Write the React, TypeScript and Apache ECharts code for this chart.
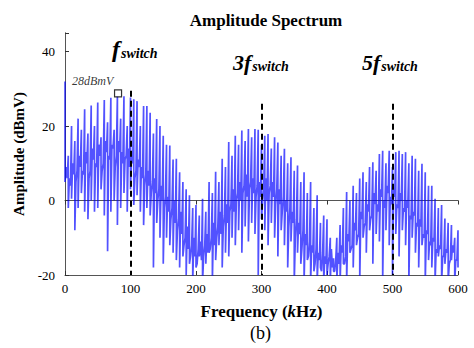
import React, { useEffect, useRef } from "react";
import * as echarts from "echarts";

const freqs = [
  0, 5, 10, 15, 20, 25, 30, 35, 40, 45, 50, 55, 60, 65, 70, 75, 80, 85, 90, 95,
  100, 105, 110, 115, 120, 125, 130, 135, 140, 145, 150, 155, 160, 165, 170, 175, 180, 185, 190, 195,
  200, 205, 210, 215, 220, 225, 230, 235, 240, 245, 250, 255, 260, 265, 270, 275, 280, 285, 290, 295,
  300, 305, 310, 315, 320, 325, 330, 335, 340, 345, 350, 355, 360, 365, 370, 375, 380, 385, 390, 395,
  400, 405, 410, 415, 420, 425, 430, 435, 440, 445, 450, 455, 460, 465, 470, 475, 480, 485, 490, 495,
  500, 505, 510, 515, 520, 525, 530, 535, 540, 545, 550, 555, 560, 565, 570, 575, 580, 585, 590, 595, 600,
];

const peaks = [
  32, 12, 20, 16, 22, 19, 24.5, 18, 25.5, 20, 26.3, 17, 27, 21, 27.6, 19, 28, 22, 28, 20,
  27.7, 27.2, 26.7, 20, 25.4, 25.4, 23.6, 18, 21.9, 20, 17.4, 15, 14.8, 11, 11.2, 7.6, 5, 3, 1.4, -2,
  -1.2, -4, 0.5, -3, 5, 2, 7.7, 5, 11.2, 9, 15.7, 12, 17.4, 15, 18.8, 16, 19.2, 17, 19.2, 19,
  15, 17.4, 17.9, 14, 17, 15.6, 12, 13.9, 10, 11.6, 8, 9.4, 5, 7.6, 2, 5, -2, 1.4, -6, -4,
  -5, -10, -15.5, -10, -6.6, -2, 2.3, 0, 4, 2, 5.9, 7.6, 5, 9, 10.3, 8, 12.5, 13.4, 10, 13.4,
  9, 13, 13.4, 12.5, 13, 10, 12, 11.2, 8, 9.9, 7.6, 4, 4, 0.5, -2, -1.2, -4.8, -6, -6.6, -10, -8,
];

const troughs = [
  5, -2, 0.5, -8, -2, 2, -3, -5, 0, -3, -2, 3, -4, -13.6, -3, 0, -6.6, -2, 2, -3,
  3, -1.2, 1.4, -3, -6.6, -2, -4, -18, -6, -10, -17, -10, -12, -14, -16, -18, -15, -20, -17, -22,
  -18, -15, -22, -17, -14, -22, -16, -12, -18, -14, -15, -10, -12, -8, -14, -7, -11, -6, -9, -20,
  -5, -8, -12, -6, -10, -15, -8, -12, -18, -11, -22, -14, -17, -22, -16, -22, -19, -22, -18, -22,
  -20, -22, -19, -22, -22, -17, -22, -14, -18, -12, -22, -10, -14, -8, -17, -9, -11, -22, -8, -12,
  -20, -9, -15, -8, -12, -22, -10, -14, -18, -12, -22, -16, -18, -22, -15, -22, -17, -22, -16, -22, -18,
];

const floorsA = [
  9, 6, 10, 5, 12, 8, 13, 6, 14, 10, 15, 8, 16, 12, 15, 9, 16, 13, 11, 14,
  12, 6, 11, 9, 4, 8, 2, 6, 0, 4, -2, 1, -5, 0, -8, -3, -12, -7, -15, -10,
  -17, -11, -15, -9, -13, -6, -10, -3, -7, -1, -3, 3, 0, 5, 2, 7, 3, 6, 1, 5,
  0, 6, 2, 5, -1, 3, -3, 0, -7, -3, -10, -6, -13, -9, -15, -12, -17, -14, -19, -15,
  -17, -13, -19, -14, -12, -17, -9, -13, -6, -10, -3, -7, -1, -5, 2, -1, 3, 0, 4, 1,
  3, -1, 2, -2, 0, -4, -3, -6, -5, -9, -8, -11, -10, -13, -12, -15, -13, -17, -12, -16, -15,
];

const floorsB = [
  6, 4, 7, 8, 9, 7, 10, 8, 11, 9, 12, 10, 13, 11, 14, 12, 13, 10, 12, 9,
  10, 8, 9, 6, 7, 4, 5, 2, 3, 0, 1, -3, -2, -6, -5, -9, -10, -13, -12, -15,
  -13, -16, -12, -14, -10, -12, -7, -9, -4, -6, -1, -3, 2, 0, 4, 1, 5, 2, 4, 1,
  3, 0, 4, 1, 3, -1, 1, -3, -2, -6, -5, -9, -8, -12, -11, -14, -13, -16, -14, -17,
  -15, -18, -16, -17, -14, -15, -11, -12, -8, -9, -5, -6, -3, -4, -1, -3, 1, -2, 2, -1,
  1, -2, 0, -3, -2, -5, -4, -7, -7, -10, -9, -12, -11, -14, -13, -15, -14, -16, -14, -16, -15,
];

const xTicks = [0, 100, 200, 300, 400, 500, 600];
const yTicks = [-20, 0, 20, 40];
const harmonics = [100, 300, 500];
const harmonicTops = [29.5, 26, 26];
const peakMarker = [[81, 28.8]];

const SERIF = "Liberation Serif";

export default function App() {
  const ref = useRef<HTMLDivElement>(null);
  useEffect(() => {
    if (!ref.current) return;
    const chart = echarts.init(ref.current, null, { renderer: "svg" });
    const line: number[][] = [];
    for (let i = 0; i < freqs.length; i++) {
      line.push([freqs[i], peaks[i]]);
      line.push([freqs[i], troughs[i]]);
      if (i < freqs.length - 1) {
        const step = freqs[i + 1] - freqs[i];
        line.push([freqs[i] + step / 3, floorsA[i]]);
        line.push([freqs[i] + (2 * step) / 3, floorsB[i]]);
      }
    }
    const markData = harmonics.map((h, i) => [
      { coord: [h, harmonicTops[i]] },
      { coord: [h, -20] },
    ]);
    const sub = { fontFamily: SERIF, fontSize: 14, fontWeight: "bold", fontStyle: "italic", color: "#000", padding: [8, 0, 0, 1] };
    chart.setOption({
      animation: false,
      textStyle: { fontFamily: SERIF },
      title: {
        text: "Amplitude Spectrum",
        left: 261,
        textAlign: "center",
        top: 7,
        textStyle: { fontFamily: SERIF, fontSize: 17, fontWeight: "bold", color: "#000" },
      },
      grid: { left: 65, right: 16, top: 33, bottom: 73 },
      xAxis: [
        {
          type: "value",
          min: 0,
          max: 600,
          interval: 100,
          axisLine: { show: true, onZero: false, lineStyle: { color: "#555", width: 1 } },
          axisTick: { show: true, inside: true, length: 4, lineStyle: { color: "#333" } },
          splitLine: { show: false },
          axisLabel: {
            fontFamily: SERIF, fontSize: 13, color: "#000", margin: 7,
            formatter: (v: number) => (xTicks.includes(v) ? String(v) : ""),
          },
          name: "{b|Frequency (}{bi|k}{b|Hz)}",
          nameLocation: "middle",
          nameGap: 28,
          nameTextStyle: {
            rich: {
              b: { fontFamily: SERIF, fontSize: 17, fontWeight: "bold", color: "#000" },
              bi: { fontFamily: SERIF, fontSize: 17, fontWeight: "bold", fontStyle: "italic", color: "#000" },
            },
          },
        },
        {
          type: "value",
          position: "top",
          min: 0,
          max: 600,
          interval: 100,
          axisLine: { show: true, lineStyle: { color: "#555", width: 1 } },
          axisTick: { show: true, inside: true, length: 4, lineStyle: { color: "#333" } },
          axisLabel: { show: false },
          splitLine: { show: false },
        },
      ],
      yAxis: [
        {
          type: "value",
          min: -20,
          max: 45,
          interval: 20,
          axisLine: { show: true, onZero: false, lineStyle: { color: "#555", width: 1 } },
          axisTick: { show: true, inside: true, length: 4, lineStyle: { color: "#333" } },
          splitLine: { show: false },
          axisLabel: {
            fontFamily: SERIF, fontSize: 13, color: "#000", margin: 10,
            formatter: (v: number) => (yTicks.includes(v) ? String(v) : ""),
          },
          name: "Amplitude (dBmV)",
          nameLocation: "middle",
          nameGap: 37,
          nameTextStyle: { fontFamily: SERIF, fontSize: 15, fontWeight: "bold", color: "#000" },
        },
        {
          type: "value",
          position: "right",
          min: -20,
          max: 45,
          interval: 20,
          axisLine: { show: true, lineStyle: { color: "#555", width: 1 } },
          axisTick: { show: false },
          axisLabel: { show: false },
          splitLine: { show: false },
        },
      ],
      series: [
        {
          type: "line",
          data: line,
          symbol: "none",
          clip: true,
          lineStyle: { color: "#0000ff", opacity: 0.68, width: 1.7 },
          markLine: {
            symbol: "none",
            silent: true,
            label: { show: false },
            lineStyle: { color: "#000", type: [6, 4], width: 2, opacity: 1 },
            data: markData,
          },
        },
        {
          type: "scatter",
          data: peakMarker,
          symbol: "rect",
          symbolSize: 7,
          itemStyle: { color: "#fff", borderColor: "#000", borderWidth: 1.2 },
          label: {
            show: true,
            position: [-42, -14],
            formatter: "28dBmV",
            fontFamily: SERIF,
            fontStyle: "italic",
            fontSize: 12,
            color: "#000",
          },
          z: 5,
        },
      ],
      graphic: [
        {
          type: "text",
          left: 112,
          top: 37,
          style: {
            text: "{f|f}{s|switch}",
            rich: {
              f: { fontFamily: SERIF, fontSize: 24, fontWeight: "bold", fontStyle: "italic", fill: "#000" },
              s: sub,
            },
          },
        },
        {
          type: "text",
          left: 233,
          top: 51,
          style: {
            text: "{f|3f}{s|switch}",
            rich: {
              f: { fontFamily: SERIF, fontSize: 22, fontWeight: "bold", fontStyle: "italic", fill: "#000" },
              s: sub,
            },
          },
        },
        {
          type: "text",
          left: 362,
          top: 51,
          style: {
            text: "{f|5f}{s|switch}",
            rich: {
              f: { fontFamily: SERIF, fontSize: 22, fontWeight: "bold", fontStyle: "italic", fill: "#000" },
              s: sub,
            },
          },
        },
        {
          type: "text",
          left: 250,
          top: 324,
          style: { text: "(b)", font: `18px "${SERIF}"`, fill: "#000" },
        },
      ],
    });
    return () => chart.dispose();
  }, []);
  return <div ref={ref} style={{ width: 474, height: 348, position: "absolute", left: 0, top: 0 }} />;
}
